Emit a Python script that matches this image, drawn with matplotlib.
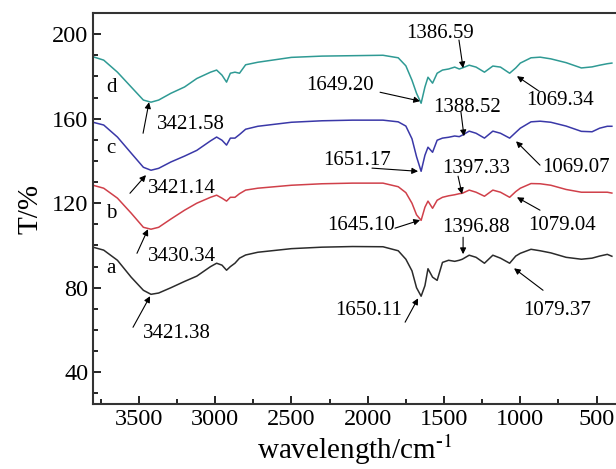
import numpy as np
import matplotlib
matplotlib.use("Agg")
import matplotlib.pyplot as plt

plt.rcParams['font.family'] = ['Liberation Serif', 'DejaVu Serif']
plt.rcParams['mathtext.fontset'] = 'stix'

#############################################
# spectra (wavenumber in cm-1, transmittance with offsets)
wavenumber = [3800, 3730, 3640, 3550, 3470, 3420, 3370, 3290, 3200, 3120,
              3030, 2990, 2955, 2925, 2900, 2870, 2840, 2800, 2720, 2500,
              2300, 2100, 1900, 1800, 1750, 1710, 1680, 1650, 1625, 1605,
              1575, 1545, 1510, 1470, 1430, 1400, 1380, 1335, 1290, 1235,
              1180, 1130, 1070, 1030, 1000, 930, 870, 800, 700, 600,
              530, 480, 430, 400]

T_d = [189.3, 187.7, 182.0, 175.0, 168.8, 167.8, 168.8, 172.0, 175.0, 179.0,
       182.0, 183.0, 180.6, 177.3, 181.5, 182.0, 181.5, 185.5, 186.7, 189.0,
       189.6, 189.8, 190.0, 188.8, 185.0, 178.2, 172.0, 167.3, 175.0, 179.6,
       176.8, 181.5, 183.0, 183.5, 184.4, 183.5, 184.0, 185.3, 184.4, 182.0,
       184.9, 184.4, 181.5, 184.0, 186.3, 188.8, 189.1, 188.3, 186.5, 184.0,
       184.5, 185.3, 186.0, 186.3]

T_c = [158.3, 157.0, 151.3, 143.7, 137.0, 135.6, 136.5, 139.5, 142.3, 145.0,
       149.5, 151.3, 149.8, 147.5, 150.8, 150.8, 152.5, 155.0, 156.4, 158.3,
       159.0, 159.3, 159.3, 158.5, 156.5, 150.5, 142.0, 135.1, 142.7, 146.5,
       144.1, 149.8, 150.8, 151.2, 151.8, 151.5, 152.2, 154.1, 153.1, 150.8,
       154.1, 153.1, 150.8, 153.5, 155.5, 158.5, 158.8, 158.3, 156.5, 154.0,
       153.8, 155.5, 156.4, 156.4]

T_b = [128.5, 127.1, 122.4, 115.3, 108.6, 107.7, 108.6, 112.5, 116.7, 120.0,
       122.8, 123.8, 122.4, 121.0, 122.8, 122.8, 124.5, 126.2, 127.1, 128.5,
       129.2, 129.5, 129.5, 127.8, 125.0, 120.0, 114.5, 111.9, 118.1, 121.0,
       117.6, 121.4, 122.8, 123.5, 124.0, 124.5, 124.7, 126.2, 125.2, 123.3,
       126.2, 125.2, 122.8, 125.5, 127.1, 129.3, 129.2, 128.5, 126.5, 125.2,
       125.2, 125.2, 125.2, 124.8]

T_a = [99.2, 97.8, 93.0, 85.0, 78.8, 76.9, 77.5, 80.0, 83.0, 85.5,
       90.0, 91.6, 90.7, 88.3, 90.0, 91.6, 94.0, 95.5, 96.8, 98.5,
       99.2, 99.5, 99.4, 97.5, 93.5, 88.0, 80.0, 76.0, 81.0, 89.0,
       85.0, 83.5, 92.0, 93.0, 92.5, 93.0, 93.5, 95.4, 94.4, 91.6,
       95.4, 94.0, 91.6, 95.0, 96.3, 98.2, 97.5, 96.5, 94.4, 93.5,
       94.0, 95.0, 95.8, 94.9]

curve_names = ['a', 'b', 'c', 'd']
curve_colors = ['#2b2b2b', '#d0404a', '#3a38a8', '#2f9a94']
curve_label_pos = [(3682, 86.9), (3682, 112.9), (3682, 143.7), (3682, 172.5)]

# peak labels: text, text position, arrow tail, arrow head
peak_labels = ['3421.58', '3421.14', '3430.34', '3421.38',
               '1649.20', '1386.59', '1069.34',
               '1388.52', '1651.17', '1069.07',
               '1397.33', '1645.10', '1079.04',
               '1396.88', '1650.11', '1079.37']
peak_text_xy = [(3158, 155.0), (3217, 124.7), (3217, 92.5), (3250, 56.1),
                (2181, 173.5), (1526, 198.1), (740, 166.4),
                (1349, 163.1), (2070, 138.0), (635, 134.7),
                (1290, 134.2), (2044, 107.2), (727, 107.2),
                (1290, 106.3), (1991, 67.0), (759, 67.0)]
arrow_tail = [(3472, 153.1), (3558, 124.7), (3512, 96.3), (3538, 61.3),
              (1919, 172.5), (1402, 197.2), (877, 173.0),
              (1389, 163.1), (1972, 136.6), (871, 138.0),
              (1408, 132.8), (1821, 108.2), (871, 116.7),
              (1375, 103.9), (1755, 63.7), (851, 78.8)]
arrow_head = [(3433, 167.8), (3453, 133.3), (3440, 107.7), (3426, 76.0),
              (1657, 168.3), (1375, 183.9), (1022, 180.1),
              (1369, 151.7), (1670, 135.1), (1028, 149.3),
              (1382, 124.3), (1657, 112.0), (1022, 122.8),
              (1375, 95.9), (1670, 75.0), (1041, 89.2)]

#############################################
fig = plt.figure(figsize=(6.16, 4.69), dpi=100)
ax = fig.add_axes([0.151, 0.1386, 0.849, 0.8337])

for T, name, col in zip([T_a, T_b, T_c, T_d], curve_names, curve_colors):
    ax.plot(wavenumber, T, color=col, lw=1.1)

for name, (x, y) in zip(curve_names, curve_label_pos):
    ax.text(x, y, name, fontsize=15, ha='center', va='baseline')

for txt, txy, tail, head in zip(peak_labels, peak_text_xy, arrow_tail, arrow_head):
    ax.text(txy[0], txy[1], txt, fontsize=15, ha='center', va='baseline')
    ax.annotate('', xy=head, xytext=tail,
                arrowprops=dict(arrowstyle='-|>', color='black', lw=0.8,
                                mutation_scale=9, shrinkA=0, shrinkB=0))

ax.set_xlim(3800, 373)
ax.set_ylim(25, 210)
ax.set_xticks([3500, 3000, 2500, 2000, 1500, 1000, 500])
ax.set_xticks(np.arange(3750, 373, -250), minor=True)
ax.set_yticks([40, 80, 120, 160, 200])
ax.set_yticks(np.arange(30, 210, 10), minor=True)
ax.tick_params(which='both', direction='in', labelsize=17.5, width=1.2)
ax.tick_params(which='major', length=6)
ax.tick_params(which='minor', length=3.5)
ax.spines['right'].set_visible(False)
for s in ['left', 'bottom', 'top']:
    ax.spines[s].set_linewidth(1.5)
    ax.spines[s].set_color('#333333')

ax.set_xlabel('wavelength/cm$^{\\mathregular{\u2010}1}$', fontsize=21, labelpad=2)
ax.set_ylabel('T/%', fontsize=21, labelpad=6)

fig.savefig('out.png', dpi=100)
